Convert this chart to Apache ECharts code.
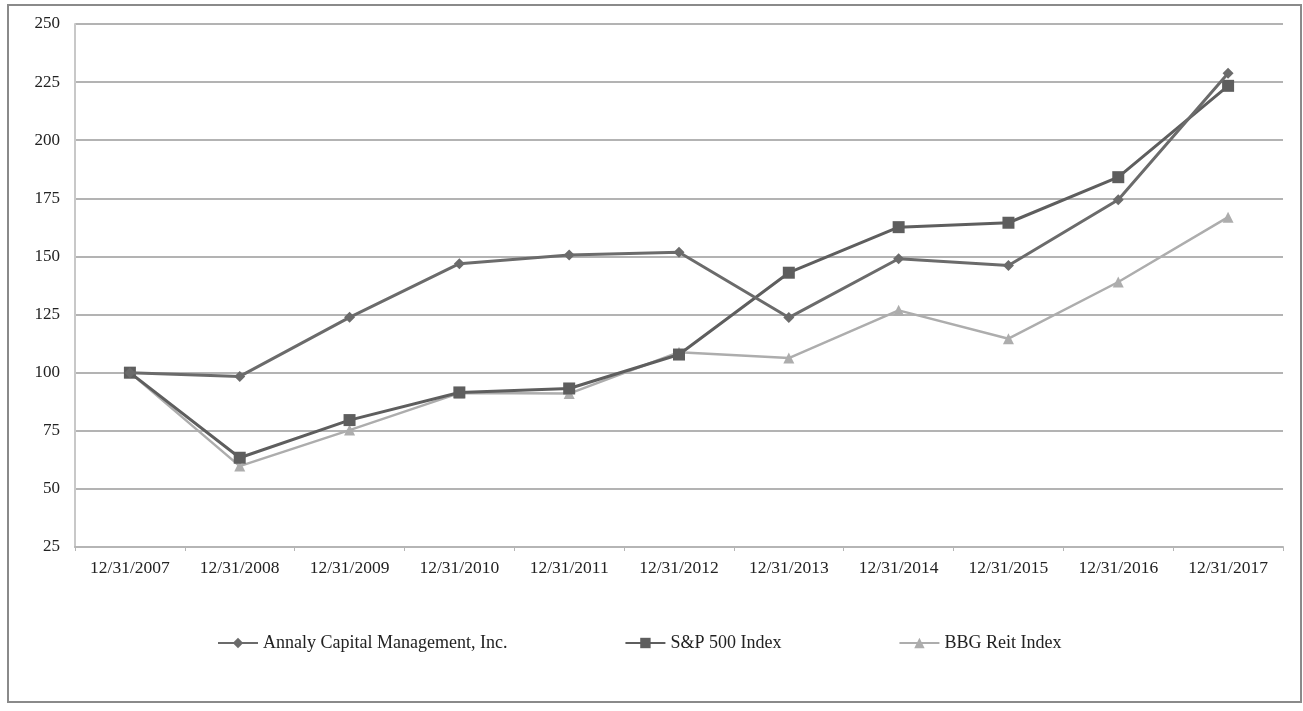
<!DOCTYPE html>
<html>
<head>
<meta charset="utf-8">
<script src="https://cdn.jsdelivr.net/npm/echarts@6/dist/echarts.min.js"></script>
<style>html,body{margin:0;padding:0;background:#fff;}#chart{width:1303px;height:711px;}</style>
</head>
<body>
<div id="chart"></div>
<script>
const categories = ['12/31/2007','12/31/2008','12/31/2009','12/31/2010','12/31/2011','12/31/2012','12/31/2013','12/31/2014','12/31/2015','12/31/2016','12/31/2017'];
const annaly = [100, 98.4, 123.8, 146.9, 150.6, 151.8, 123.7, 149.0, 146.1, 174.4, 228.8];
const sp500 = [100, 63.4, 79.6, 91.5, 93.2, 107.8, 143.0, 162.6, 164.5, 184.1, 223.4];
const bbgReit = [100, 59.8, 75.3, 91.2, 91.0, 108.8, 106.3, 126.8, 114.6, 139.0, 166.9];
const yTicks = [25, 50, 75, 100, 125, 150, 175, 200, 225, 250];
const seriesNames = ['Annaly Capital Management, Inc.', 'S&P 500 Index', 'BBG Reit Index'];

const font = 'Liberation Serif, Times New Roman, serif';
const chart = echarts.init(document.getElementById('chart'));
chart.setOption({
  animation: false,
  backgroundColor: '#fff',
  textStyle: { fontFamily: font },
  graphic: [{
    type: 'rect', z: -10, silent: true,
    shape: { x: 8, y: 5, width: 1293, height: 697 },
    style: { fill: 'none', stroke: '#8a8a8a', lineWidth: 2 }
  }],
  grid: { left: 75, right: 20, top: 24, bottom: 164, containLabel: false },
  legend: {
    left: 212, top: 629, itemGap: 117, itemWidth: 40, itemHeight: 13,
    textStyle: { fontFamily: font, fontSize: 18, color: '#222' },
    data: seriesNames
  },
  xAxis: {
    type: 'category', data: categories, boundaryGap: true,
    axisLine: { lineStyle: { color: '#b5b5b5', width: 2 } },
    axisTick: { show: true, length: 4, lineStyle: { color: '#b5b5b5' } },
    axisLabel: { fontFamily: font, fontSize: 17.5, color: '#222', margin: 12 }
  },
  yAxis: {
    type: 'value', min: yTicks[0], max: yTicks[yTicks.length - 1], interval: 25,
    axisLine: { show: true, lineStyle: { color: '#c8c8c8', width: 2 } },
    axisTick: { show: false },
    axisLabel: { fontFamily: font, fontSize: 17, color: '#222', margin: 15 },
    splitLine: { lineStyle: { color: '#9a9a9a', width: 1.5 } }
  },
  series: [
    {
      name: seriesNames[0], type: 'line', data: annaly,
      symbol: 'diamond', symbolSize: 11, z: 3,
      lineStyle: { color: '#6b6b6b', width: 3 },
      itemStyle: { color: '#6b6b6b' }
    },
    {
      name: seriesNames[1], type: 'line', data: sp500,
      symbol: 'rect', symbolSize: 12, z: 2,
      lineStyle: { color: '#5e5e5e', width: 3 },
      itemStyle: { color: '#5e5e5e' }
    },
    {
      name: seriesNames[2], type: 'line', data: bbgReit,
      symbol: 'triangle', symbolSize: 11, z: 1,
      lineStyle: { color: '#adadad', width: 2.5 },
      itemStyle: { color: '#adadad' }
    }
  ]
});
</script>
</body>
</html>
